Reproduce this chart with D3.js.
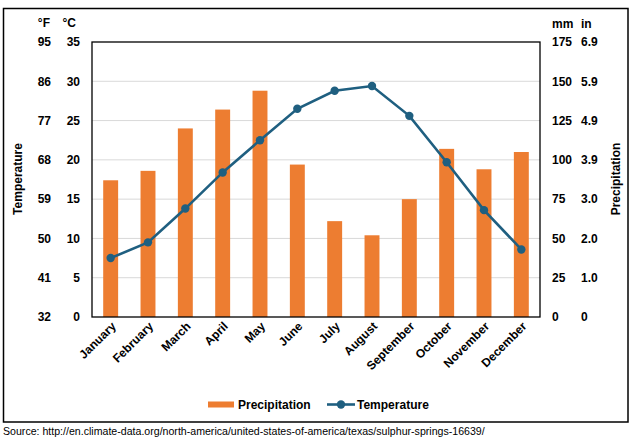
<!DOCTYPE html>
<html>
<head>
<meta charset="utf-8">
<script src="https://cdn.jsdelivr.net/npm/d3@7"></script>
<style>
  html, body { margin: 0; padding: 0; background: #fff; }
  svg { display: block; font-family: "Liberation Sans", Arial, sans-serif; }
</style>
</head>
<body>
<svg id="chart" width="633" height="438"></svg>
<script>
// Monthly climate for Sulphur Springs, TX
const months = ["January", "February", "March", "April", "May", "June",
  "July", "August", "September", "October", "November", "December"];
const precipMm = [87, 93, 120, 132, 144, 97, 61, 52, 75, 107, 94, 105];
const tempC = [7.5, 9.5, 13.8, 18.4, 22.5, 26.5, 28.8, 29.4, 25.6, 19.7, 13.6, 8.6];

// Tick labels of the four value axes
const celsiusTicks = [0, 5, 10, 15, 20, 25, 30, 35];
const fahrenheitLabels = ["32", "41", "50", "59", "68", "77", "86", "95"];
const mmTicks = [0, 25, 50, 75, 100, 125, 150, 175];
const inchLabels = ["0", "1.0", "2.0", "3.0", "3.9", "4.9", "5.9", "6.9"];

const orange = "#ed7d31";
const blue = "#1f5f80";

const svg = d3.select("#chart");
const plot = { left: 92, top: 42, right: 540, bottom: 317 };

// Outer frame
svg.append("rect")
  .attr("x", 3.5).attr("y", 8.5)
  .attr("width", 624.5).attr("height", 413.5)
  .attr("fill", "none").attr("stroke", "#000").attr("stroke-width", 1.5);

const x = d3.scaleBand()
  .domain(months)
  .range([plot.left, plot.right])
  .paddingInner(0.6)
  .paddingOuter(0.3);

const xPoint = (m) => x(m) + x.bandwidth() / 2;

const yC = d3.scaleLinear().domain([0, 35]).range([plot.bottom, plot.top]);
const yMm = d3.scaleLinear().domain([0, 175]).range([plot.bottom, plot.top]);

// Gridlines
svg.append("g")
  .selectAll("line")
  .data(celsiusTicks.filter((d) => d > 0 && d < 35))
  .join("line")
  .attr("x1", plot.left).attr("x2", plot.right)
  .attr("y1", (d) => yC(d)).attr("y2", (d) => yC(d))
  .attr("stroke", "#d9d9d9").attr("stroke-width", 1);

// Precipitation bars
svg.append("g")
  .selectAll("rect")
  .data(months)
  .join("rect")
  .attr("x", (m) => x(m))
  .attr("width", x.bandwidth())
  .attr("y", (m, i) => yMm(precipMm[i]))
  .attr("height", (m, i) => plot.bottom - yMm(precipMm[i]))
  .attr("fill", orange);

// Temperature line
const line = d3.line()
  .x((d, i) => xPoint(months[i]))
  .y((d) => yC(d));

svg.append("path")
  .datum(tempC)
  .attr("d", line)
  .attr("fill", "none")
  .attr("stroke", blue)
  .attr("stroke-width", 2.6);

svg.append("g")
  .selectAll("circle")
  .data(tempC)
  .join("circle")
  .attr("cx", (d, i) => xPoint(months[i]))
  .attr("cy", (d) => yC(d))
  .attr("r", 4.2)
  .attr("fill", blue);

// Plot frame
svg.append("rect")
  .attr("x", plot.left).attr("y", plot.top)
  .attr("width", plot.right - plot.left).attr("height", plot.bottom - plot.top)
  .attr("fill", "none").attr("stroke", "#000").attr("stroke-width", 1.3);

// Value axes (labels only)
const styleAxis = (g) => {
  g.select(".domain").remove();
  g.selectAll(".tick line").remove();
  g.selectAll("text")
    .attr("font-size", 12)
    .attr("font-weight", "bold")
    .attr("fill", "#000")
    .attr("font-family", "Liberation Sans, Arial, sans-serif");
};

svg.append("g")
  .attr("transform", "translate(80,0)")
  .call(d3.axisLeft(yC).tickValues(celsiusTicks).tickSize(0).tickPadding(0).tickFormat(d3.format("d")))
  .call(styleAxis);

svg.append("g")
  .attr("transform", "translate(51,0)")
  .call(d3.axisLeft(yC).tickValues(celsiusTicks).tickSize(0).tickPadding(0)
    .tickFormat((d, i) => fahrenheitLabels[i]))
  .call(styleAxis);

svg.append("g")
  .attr("transform", "translate(552,0)")
  .call(d3.axisRight(yMm).tickValues(mmTicks).tickSize(0).tickPadding(0).tickFormat(d3.format("d")))
  .call(styleAxis);

svg.append("g")
  .attr("transform", "translate(581,0)")
  .call(d3.axisRight(yMm).tickValues(mmTicks).tickSize(0).tickPadding(0)
    .tickFormat((d, i) => inchLabels[i]))
  .call(styleAxis);

// Month axis
const xAxis = svg.append("g")
  .attr("transform", `translate(0,${plot.bottom})`)
  .call(d3.axisBottom(x).tickSize(0).tickPadding(0));
xAxis.select(".domain").remove();
xAxis.selectAll("text")
  .attr("font-size", 12)
  .attr("font-weight", "bold")
  .attr("fill", "#000")
  .attr("font-family", "Liberation Sans, Arial, sans-serif")
  .attr("dy", null)
  .attr("y", 0)
  .attr("transform", "translate(6,10) rotate(-45)")
  .style("text-anchor", "end");

// Unit headers and axis titles
const bold = (sel) => sel.attr("font-size", 12).attr("font-weight", "bold").attr("fill", "#000");

svg.append("text").attr("x", 50).attr("y", 27).attr("text-anchor", "end").text("°F").call(bold);
svg.append("text").attr("x", 76).attr("y", 27).attr("text-anchor", "end").text("°C").call(bold);
svg.append("text").attr("x", 552).attr("y", 28).text("mm").call(bold);
svg.append("text").attr("x", 581).attr("y", 28).text("in").call(bold);

svg.append("text")
  .attr("transform", "translate(22,179) rotate(-90)")
  .attr("text-anchor", "middle")
  .text("Temperature").call(bold);

svg.append("text")
  .attr("transform", "translate(620,179) rotate(-90)")
  .attr("text-anchor", "middle")
  .text("Precipitation").call(bold);

// Legend
const legend = svg.append("g");
legend.append("rect")
  .attr("x", 208).attr("y", 401.5).attr("width", 26).attr("height", 6)
  .attr("fill", orange);
legend.append("text").attr("x", 238).attr("y", 409).text("Precipitation").call(bold);
legend.append("line")
  .attr("x1", 327).attr("x2", 355).attr("y1", 404.5).attr("y2", 404.5)
  .attr("stroke", blue).attr("stroke-width", 2.6);
legend.append("circle").attr("cx", 341).attr("cy", 404.5).attr("r", 4.2).attr("fill", blue);
legend.append("text").attr("x", 357).attr("y", 409).text("Temperature").call(bold);

// Source note
svg.append("text")
  .attr("x", 3).attr("y", 435)
  .attr("font-size", 10.6)
  .attr("fill", "#000")
  .text("Source: http://en.climate-data.org/north-america/united-states-of-america/texas/sulphur-springs-16639/");
</script>
</body>
</html>
